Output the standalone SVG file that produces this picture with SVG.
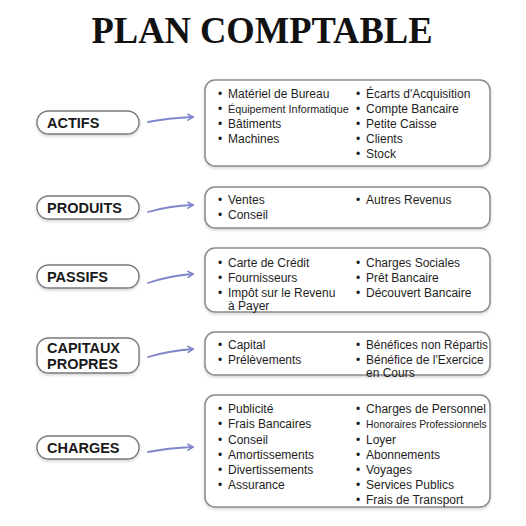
<svg xmlns="http://www.w3.org/2000/svg" width="526" height="526" viewBox="0 0 526 526">
<defs>
<style>
.title{font-family:"Liberation Serif","Times New Roman",serif;font-weight:bold;font-size:38px;fill:#111}
.pill{fill:#fff;stroke:#7a7a7a;stroke-width:1.4}
.box{fill:#fff;stroke:#8a8a8a;stroke-width:1.5}
.lbl{font-family:"Liberation Sans",Arial,sans-serif;font-weight:bold;font-size:14.5px;fill:#1a1a1a}
.it{font-family:"Liberation Sans",Arial,sans-serif;font-size:12px;fill:#1e1e1e}
.sm{font-size:10.3px}
.md{font-size:10.8px}
.arr{fill:none;stroke:#7f86c9;stroke-width:1.8;stroke-linecap:round}
</style>
<filter id="sh" x="-10%" y="-10%" width="120%" height="130%">
<feDropShadow dx="0" dy="1.5" stdDeviation="1.5" flood-color="#000" flood-opacity="0.18"/>
</filter>
<marker id="ah" markerWidth="8" markerHeight="8" refX="6" refY="4" orient="auto" markerUnits="userSpaceOnUse">
<path d="M1,1 L6,4 L1,7" fill="none" stroke="#7f86c9" stroke-width="1.6" stroke-linecap="round" stroke-linejoin="round"/>
</marker>
</defs>
<rect width="526" height="526" fill="#fff"/>
<text class="title" x="262" y="43" text-anchor="middle" textLength="341" lengthAdjust="spacingAndGlyphs">PLAN COMPTABLE</text>

<g id="connectors">
<path class="arr" d="M148,122 Q168,118 193,117" marker-end="url(#ah)"/>
<path class="arr" d="M148,212 Q168,206 193,205" marker-end="url(#ah)"/>
<path class="arr" d="M148,283 Q168,276 193,274" marker-end="url(#ah)"/>
<path class="arr" d="M148,357 Q168,351 193,349" marker-end="url(#ah)"/>
<path class="arr" d="M148,452 Q168,448 193,447" marker-end="url(#ah)"/>
</g>

<g id="actifs">
<rect class="pill" x="37" y="111" width="102" height="23" rx="11.5" filter="url(#sh)"/>
<text class="lbl" x="47" y="128">ACTIFS</text>
</g>
<g id="actifs-list">
<rect class="box" x="205" y="80" width="285" height="86" rx="10" filter="url(#sh)"/>
<g class="it">
<text x="218" y="97.5">•</text><text x="228" y="97.5">Matériel de Bureau</text>
<text x="218" y="112.7">•</text><text x="228" y="112.7" class="md">Équipement Informatique</text>
<text x="218" y="128">•</text><text x="228" y="128">Bâtiments</text>
<text x="218" y="143">•</text><text x="228" y="143">Machines</text>
<text x="356" y="97.5">•</text><text x="366" y="97.5">Écarts d'Acquisition</text>
<text x="356" y="112.7">•</text><text x="366" y="112.7">Compte Bancaire</text>
<text x="356" y="128">•</text><text x="366" y="128">Petite Caisse</text>
<text x="356" y="143">•</text><text x="366" y="143">Clients</text>
<text x="356" y="158">•</text><text x="366" y="158">Stock</text>
</g>
</g>

<g id="produits">
<rect class="pill" x="37" y="196" width="102" height="23" rx="11.5" filter="url(#sh)"/>
<text class="lbl" x="47" y="213">PRODUITS</text>
</g>
<g id="produits-list">
<rect class="box" x="205" y="187" width="285" height="41" rx="10" filter="url(#sh)"/>
<g class="it">
<text x="218" y="204">•</text><text x="228" y="204">Ventes</text>
<text x="218" y="219">•</text><text x="228" y="219">Conseil</text>
<text x="356" y="204">•</text><text x="366" y="204">Autres Revenus</text>
</g>
</g>

<g id="passifs">
<rect class="pill" x="37" y="265" width="102" height="23" rx="11.5" filter="url(#sh)"/>
<text class="lbl" x="47" y="282">PASSIFS</text>
</g>
<g id="passifs-list">
<rect class="box" x="205" y="248" width="285" height="64" rx="10" filter="url(#sh)"/>
<g class="it">
<text x="218" y="267">•</text><text x="228" y="267">Carte de Crédit</text>
<text x="218" y="282">•</text><text x="228" y="282">Fournisseurs</text>
<text x="218" y="296.5">•</text><text x="228" y="296.5">Impôt sur le Revenu</text>
<text x="228" y="309.5">à Payer</text>
<text x="356" y="267">•</text><text x="366" y="267">Charges Sociales</text>
<text x="356" y="282">•</text><text x="366" y="282">Prêt Bancaire</text>
<text x="356" y="296.5">•</text><text x="366" y="296.5">Découvert Bancaire</text>
</g>
</g>

<g id="capitaux-propres">
<rect class="pill" x="37" y="338" width="102" height="35" rx="11.5" filter="url(#sh)"/>
<text class="lbl" x="47" y="353">CAPITAUX</text>
<text class="lbl" x="47" y="369">PROPRES</text>
</g>
<g id="capitaux-list">
<rect class="box" x="205" y="332" width="285" height="43" rx="10" filter="url(#sh)"/>
<g class="it">
<text x="218" y="349">•</text><text x="228" y="349">Capital</text>
<text x="218" y="363.5">•</text><text x="228" y="363.5">Prélèvements</text>
<text x="356" y="349">•</text><text x="366" y="349" textLength="122" lengthAdjust="spacingAndGlyphs">Bénéfices non Répartis</text>
<text x="356" y="363.5">•</text><text x="366" y="363.5">Bénéfice de l'Exercice</text>
<text x="366" y="376.5">en Cours</text>
</g>
</g>

<g id="charges">
<rect class="pill" x="37" y="436" width="102" height="23" rx="11.5" filter="url(#sh)"/>
<text class="lbl" x="47" y="453">CHARGES</text>
</g>
<g id="charges-list">
<rect class="box" x="205" y="395" width="285" height="112" rx="10" filter="url(#sh)"/>
<g class="it">
<text x="218" y="413">•</text><text x="228" y="413">Publicité</text>
<text x="218" y="428">•</text><text x="228" y="428">Frais Bancaires</text>
<text x="218" y="443.5">•</text><text x="228" y="443.5">Conseil</text>
<text x="218" y="458.5">•</text><text x="228" y="458.5">Amortissements</text>
<text x="218" y="473.5">•</text><text x="228" y="473.5">Divertissements</text>
<text x="218" y="489">•</text><text x="228" y="489">Assurance</text>
<text x="356" y="413">•</text><text x="366" y="413" textLength="120" lengthAdjust="spacingAndGlyphs">Charges de Personnel</text>
<text x="356" y="428">•</text><text x="366" y="428" class="sm">Honoraires Professionnels</text>
<text x="356" y="443.5">•</text><text x="366" y="443.5">Loyer</text>
<text x="356" y="458.5">•</text><text x="366" y="458.5">Abonnements</text>
<text x="356" y="473.5">•</text><text x="366" y="473.5">Voyages</text>
<text x="356" y="489">•</text><text x="366" y="489">Services Publics</text>
<text x="356" y="504">•</text><text x="366" y="504">Frais de Transport</text>
</g>
</g>
</svg>
